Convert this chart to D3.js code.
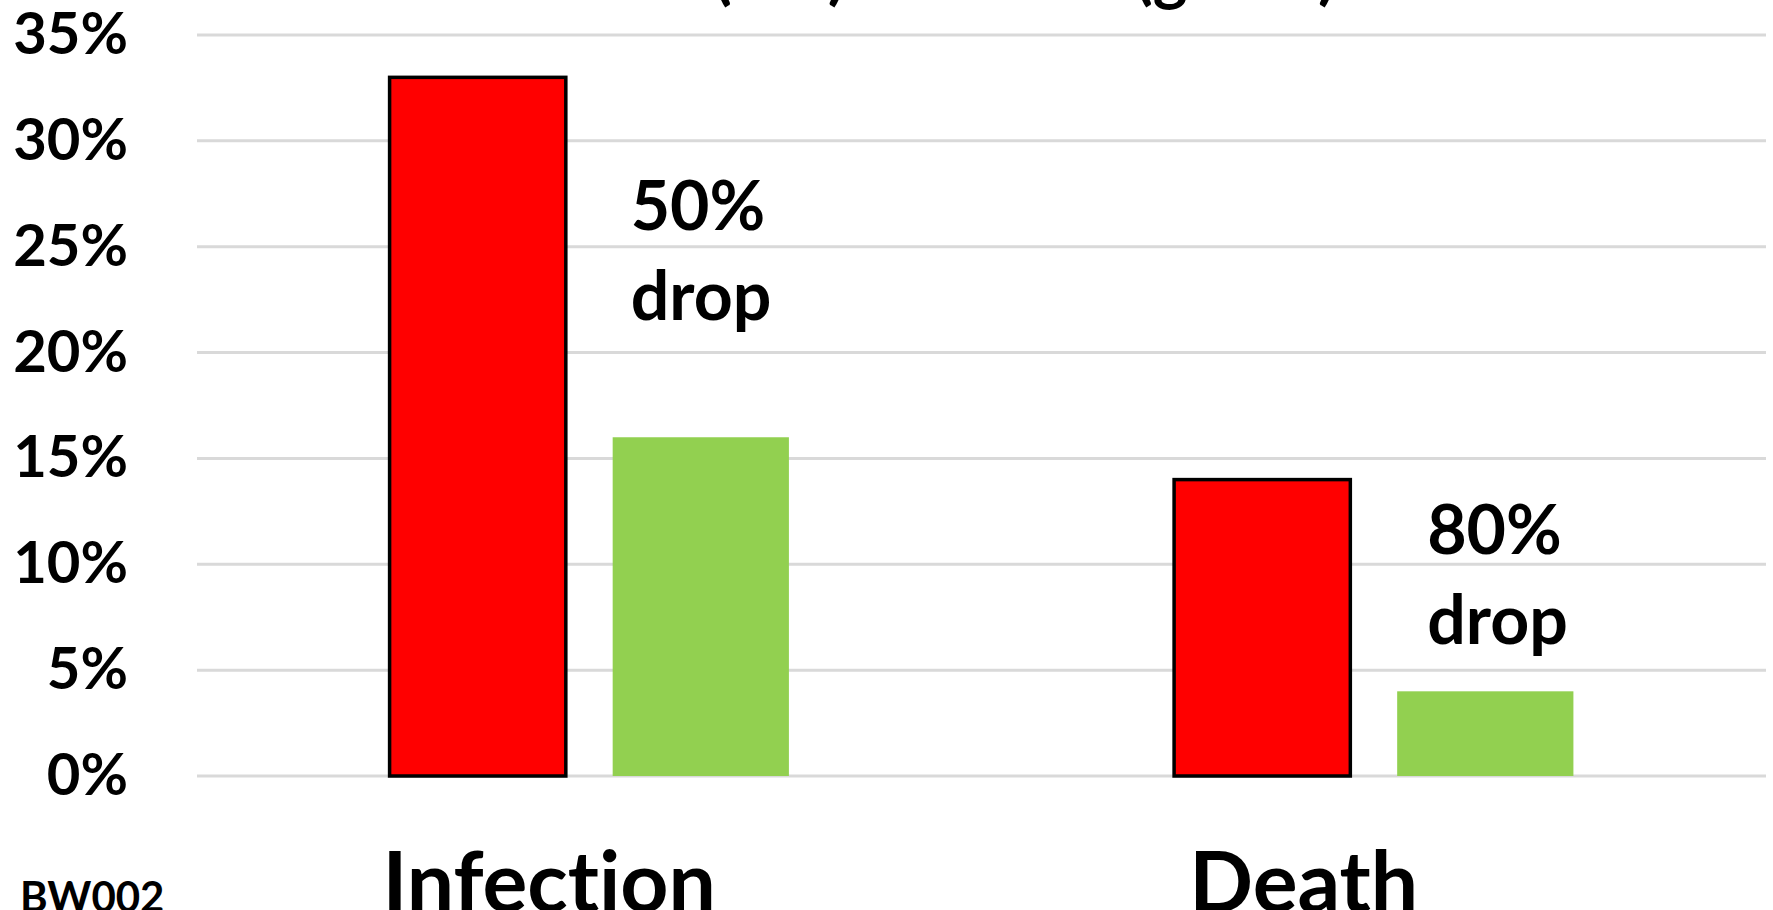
<!DOCTYPE html>
<html>
<head>
<meta charset="utf-8">
<script src="https://cdn.jsdelivr.net/npm/d3@7"></script>
<style>
  body { margin: 0; background: #fff; overflow: hidden; }
  svg { display: block; }
  text { font-variant-ligatures: none; }
</style>
</head>
<body>
<svg id="chart"></svg>
<script>
const categories = ["Infection", "Death"];
const seriesNames = ["Untreated", "Treated"];
const untreated = [0.33, 0.14];
const treated = [0.16, 0.04];
const yTicks = [0, 0.05, 0.1, 0.15, 0.2, 0.25, 0.3, 0.35];
const dropLabels = [["50%", "drop"], ["80%", "drop"]];
const dropLevels = [0.258, 0.105];
const titleParts = ["Untreated (red)", "vs. Treated (green)"];
const footnote = "BW002";

const width = 1773;
const height = 910;
const margin = { top: 35, right: 7, bottom: 134, left: 197 };
const colors = ["#ff0000", "#92d050"];
const font = "Lato, 'Open Sans', sans-serif";

const svg = d3.select("#chart").attr("width", width).attr("height", height);

const y = d3.scaleLinear()
  .domain([0, 0.35])
  .range([height - margin.bottom, margin.top]);

const x0 = d3.scaleBand()
  .domain(categories)
  .range([margin.left, width - margin.right]);

// bar pair sits in the middle of each category band
const groupWidth = x0.bandwidth() * 0.509;
const x1 = d3.scaleBand()
  .domain(seriesNames)
  .range([(x0.bandwidth() - groupWidth) / 2, (x0.bandwidth() + groupWidth) / 2])
  .paddingInner(0.21);

const rows = categories.map((c, i) => ({
  category: c,
  values: [untreated[i], treated[i]]
}));

// gridlines
svg.append("g")
  .selectAll("line")
  .data(yTicks)
  .join("line")
  .attr("x1", margin.left)
  .attr("x2", width - margin.right)
  .attr("y1", (d) => y(d))
  .attr("y2", (d) => y(d))
  .attr("stroke", "#d9d9d9")
  .attr("stroke-width", 3);

// y axis labels
svg.append("g")
  .attr("transform", `translate(${margin.left - 69},0)`)
  .call(d3.axisLeft(y).tickValues(yTicks).tickFormat(d3.format(".0%")).tickSize(0).tickPadding(0))
  .call((g) => g.select(".domain").remove())
  .selectAll("text")
  .attr("font-family", font)
  .attr("font-weight", "bold")
  .attr("font-size", 58)
  .attr("fill", "#000");

// bars
const groups = svg.append("g")
  .selectAll("g")
  .data(rows)
  .join("g")
  .attr("transform", (d) => `translate(${x0(d.category)},0)`);

groups.selectAll("rect")
  .data((d) => d.values.map((v, i) => ({ key: seriesNames[i], value: v, i })))
  .join("rect")
  .attr("x", (d) => x1(d.key))
  .attr("width", x1.bandwidth())
  .attr("y", (d) => y(d.value))
  .attr("height", (d) => y(0) - y(d.value))
  .attr("fill", (d) => colors[d.i])
  .attr("stroke", (d) => (d.i === 0 ? "#000" : "none"))
  .attr("stroke-width", 3.5);

// drop annotations
const notes = svg.append("g")
  .selectAll("text")
  .data(categories)
  .join("text")
  .attr("x", (d, i) => x0(d) + x1(seriesNames[1]) + (i === 0 ? 18 : 30))
  .attr("y", (d, i) => y(dropLevels[i]))
  .attr("font-family", font)
  .attr("font-weight", "bold")
  .attr("font-size", 68)
  .attr("fill", "#000");

notes.selectAll("tspan")
  .data((d, i) => dropLabels[i])
  .join("tspan")
  .attr("x", function () { return this.parentNode.getAttribute("x"); })
  .attr("dy", (d, j) => (j === 0 ? 0 : 90))
  .text((d) => d);

// category labels
svg.append("g")
  .selectAll("text")
  .data(categories)
  .join("text")
  .attr("x", (d, i) => x0(d) + x0.bandwidth() / 2 - (i === 0 ? 40 : 70))
  .attr("y", height + 2)
  .attr("text-anchor", "middle")
  .attr("font-family", font)
  .attr("font-weight", "bold")
  .attr("font-size", 84)
  .attr("fill", "#000")
  .text((d) => d);

// title, mostly above the visible area
svg.append("g")
  .selectAll("text")
  .data(titleParts)
  .join("text")
  .attr("x", (d, i) => (i === 0 ? 846 : 1336))
  .attr("y", -3)
  .attr("text-anchor", "end")
  .attr("font-family", font)
  .attr("font-weight", "bold")
  .attr("font-size", 66)
  .attr("fill", "#000")
  .text((d) => d);

svg.append("text")
  .attr("x", 20)
  .attr("y", 912)
  .attr("font-family", font)
  .attr("font-weight", "bold")
  .attr("font-size", 42)
  .attr("fill", "#000")
  .text(footnote);
</script>
</body>
</html>
